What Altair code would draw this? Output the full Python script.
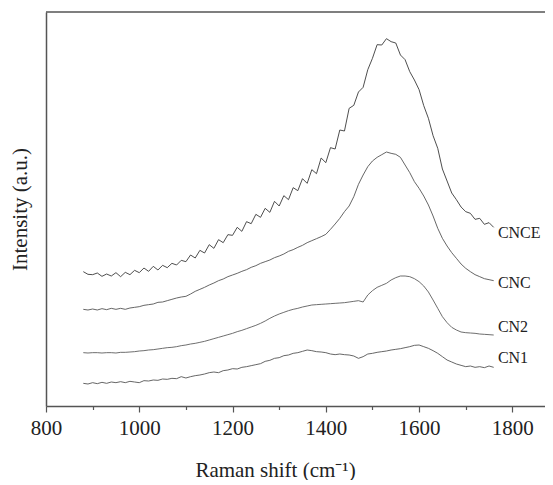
import altair as alt
import pandas as pd

# Raman shift sampling (cm^-1)
shift = list(range(880, 1761, 10))

# Intensities (arbitrary units)
cnce = [400, 392, 391, 396, 386, 393, 387, 397, 385, 398,
        391, 404, 397, 411, 401, 416, 405, 419, 412, 425,
        420, 434, 430, 450, 441, 464, 456, 481, 470, 496,
        487, 511, 509, 533, 521, 550, 544, 572, 563, 590,
        578, 611, 597, 628, 616, 652, 643, 679, 665, 706,
        694, 741, 727, 772, 768, 825, 822, 890, 899, 939,
        953, 1006, 1040, 1081, 1080, 1099, 1090, 1086, 1050, 1036,
        1000, 975, 946, 898, 860, 808, 770, 708, 672, 636,
        616, 594, 580, 575, 557, 560, 542, 547, 533]

cnc = [287, 285, 288, 285, 289, 286, 290, 287, 290, 287,
       291, 293, 295, 299, 301, 303, 308, 309, 313, 317,
       321, 324, 326, 333, 341, 347, 353, 360, 366, 373,
       378, 385, 390, 395, 401, 406, 413, 418, 425, 430,
       435, 442, 447, 453, 461, 466, 473, 479, 487, 493,
       499, 505, 512, 527, 543, 560, 580, 597, 625, 662,
       690, 715, 732, 743, 751, 759, 755, 752, 743, 720,
       697, 670, 650, 627, 600, 567, 530, 500, 477, 457,
       440, 423, 410, 400, 391, 385, 379, 376, 373]

cn2 = [157, 156, 157, 157, 156, 157, 157, 156, 158, 158,
       159, 160, 162, 163, 165, 166, 168, 170, 172, 173,
       175, 178, 180, 183, 185, 188, 191, 195, 199, 203,
       207, 211, 215, 220, 224, 229, 234, 239, 245, 252,
       260, 267, 273, 278, 283, 287, 290, 294, 297, 300,
       301, 302, 303, 304, 305, 306, 307, 309, 311, 313,
       309, 330, 343, 353, 359, 365, 375, 382, 387, 387,
       385, 379, 370, 357, 339, 315, 290, 265, 247, 233,
       225, 219, 217, 216, 215, 213, 212, 211, 210]

cn1 = [65, 63, 67, 64, 68, 65, 69, 67, 70, 67,
       71, 69, 67, 73, 72, 75, 74, 78, 77, 80,
       79, 85, 81, 85, 88, 90, 93, 97, 99, 97,
       103, 105, 109, 108, 113, 115, 118, 121, 124, 131,
       134, 140, 142, 148, 150, 155, 157, 161, 165, 163,
       160, 159, 157, 153, 151, 153, 151, 150, 147, 140,
       145, 153, 155, 158, 160, 162, 165, 167, 169, 172,
       175, 179, 180, 175, 170, 163, 155, 145, 135, 129,
       123, 119, 115, 117, 113, 115, 112, 117, 113]

series = ["CNCE", "CNC", "CN2", "CN1"]
series_colors = ["#3a3a3a", "#555555", "#5e5e5e", "#555555"]

label_names = ["CNCE", "CNC", "CN2", "CN1"]
label_shift = [1769, 1769, 1769, 1769]
label_intensity = [517, 365, 234, 140]

major_ticks = [800, 1000, 1200, 1400, 1600, 1800]
minor_ticks = [900, 1100, 1300, 1500, 1700]

rows = []
for name, vals in zip(series, [cnce, cnc, cn2, cn1]):
    assert len(vals) == len(shift), name
    for s, v in zip(shift, vals):
        rows.append({"shift": s, "intensity": v, "sample": name})
df = pd.DataFrame(rows)

labels_df = pd.DataFrame({"shift": label_shift, "intensity": label_intensity,
                          "name": label_names})

W, H = 499, 394
FONT = "Liberation Serif"
AX = "#555555"

xscale = alt.Scale(domain=[800, 1870], nice=False, zero=False)
yscale = alt.Scale(domain=[-3, 1179], nice=False, zero=False)

lines = alt.Chart(df).mark_line(strokeWidth=0.9).encode(
    x=alt.X("shift:Q", scale=xscale,
            axis=alt.Axis(values=major_ticks, tickSize=6, tickWidth=1.2,
                          tickColor=AX, domainColor=AX, domainWidth=1.5,
                          labelFont=FONT, labelFontSize=21, labelColor="#222",
                          labelPadding=5, labelFlush=False, grid=False,
                          orient="bottom", format="d",
                          title="Raman shift (cm⁻¹)", titleFont=FONT,
                          titleFontSize=21, titleFontWeight="normal",
                          titleColor="#222", titleX=229, titleY=70,
                          titleBaseline="alphabetic", titleAlign="center")),
    y=alt.Y("intensity:Q", scale=yscale,
            axis=alt.Axis(title="Intensity (a.u.)", labels=False, ticks=False,
                          grid=False, domainColor=AX, domainWidth=1.5,
                          orient="left",
                          titleFont=FONT, titleFontSize=21,
                          titleFontWeight="normal", titleColor="#222",
                          titleAngle=270, titleX=-20, titleY=197,
                          titleBaseline="alphabetic", titleAlign="center")),
    color=alt.Color("sample:N", scale=alt.Scale(domain=series, range=series_colors),
                    legend=None),
)

minor = alt.Chart(df).mark_point(opacity=0).encode(
    x=alt.X("shift:Q", scale=xscale,
            axis=alt.Axis(values=minor_ticks, tickSize=3.5, tickWidth=1.2,
                          tickColor=AX, labels=False, domain=False, grid=False,
                          title=None, orient="bottom")),
    y=alt.Y("intensity:Q", scale=yscale, axis=None),
)

frame_top = alt.Chart(pd.DataFrame({"k": [0]})).mark_rule(
    color=AX, strokeWidth=1.5).encode(
    x=alt.value(0), x2=alt.value(W), y=alt.value(0))

labels = alt.Chart(labels_df).mark_text(
    align="left", baseline="middle", font=FONT, fontSize=16, color="#222").encode(
    x=alt.X("shift:Q", scale=xscale, axis=None),
    y=alt.Y("intensity:Q", scale=yscale, axis=None),
    text="name:N",
)

chart = alt.layer(lines, minor, frame_top, labels).resolve_axis(
    x="independent", y="independent").properties(
    width=W, height=H,
    padding={"left": 38, "top": 4, "right": 0, "bottom": 74},
    autosize=alt.AutoSizeParams(type="none"),
    background="white",
).configure_view(stroke=None)

chart.save("out.html", embed_options={"renderer": "svg", "actions": False})
